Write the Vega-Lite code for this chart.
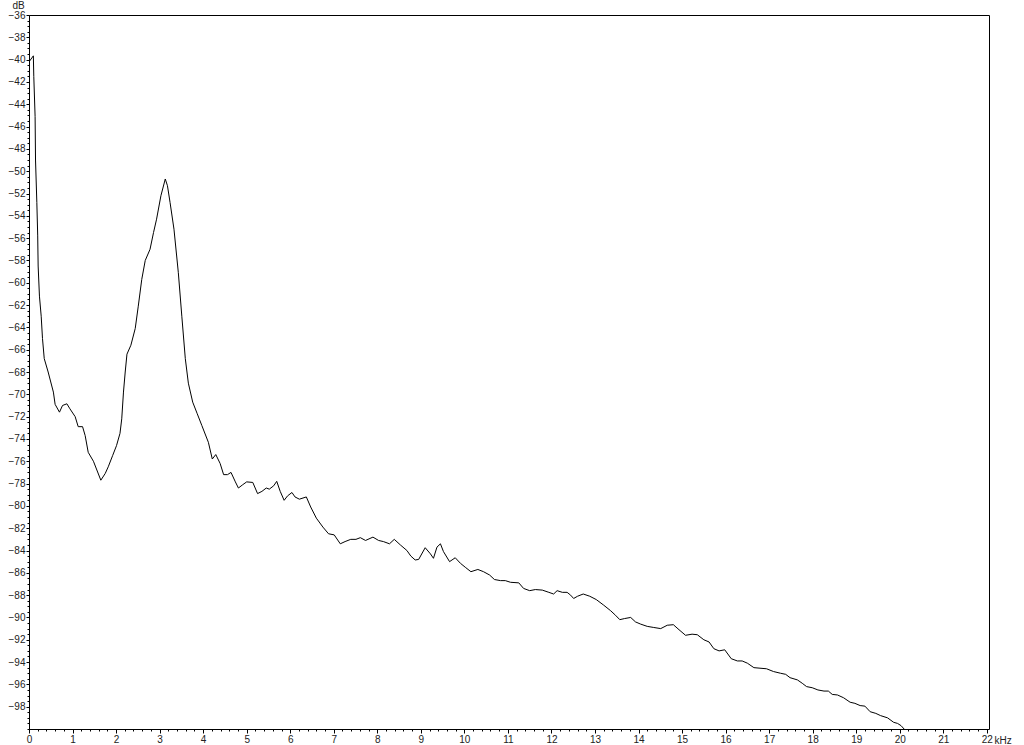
{
  "$schema": "https://vega.github.io/schema/vega-lite/v6.json",
  "width": 960,
  "height": 714,
  "autosize": {"type": "none"},
  "padding": {"left": 29, "top": 15, "right": 35, "bottom": 16},
  "background": "white",
  "config": {
    "view": {"stroke": "black", "strokeWidth": 1},
    "axis": {"grid": false, "domain": false, "tickColor": "black", "labelColor": "#222", "labelFont": "Liberation Sans", "labelFontSize": 10, "titleFont": "Liberation Sans", "titleFontSize": 10, "titleFontWeight": "normal", "titleColor": "#222"}
  },
  "data": {"values": [
    {"f": 0, "db": -40.2}, {"f": 0.1, "db": -39.66}, {"f": 0.11, "db": -41.5}, {"f": 0.14, "db": -45.1},
    {"f": 0.15, "db": -49.0}, {"f": 0.18, "db": -52.8}, {"f": 0.2, "db": -55.8}, {"f": 0.21, "db": -58.5},
    {"f": 0.24, "db": -61.2}, {"f": 0.28, "db": -63.0}, {"f": 0.31, "db": -65.0}, {"f": 0.35, "db": -66.8},
    {"f": 0.44, "db": -68.0}, {"f": 0.56, "db": -69.8}, {"f": 0.6, "db": -70.9}, {"f": 0.7, "db": -71.6},
    {"f": 0.77, "db": -71.0}, {"f": 0.87, "db": -70.85}, {"f": 0.94, "db": -71.3}, {"f": 1.06, "db": -72.0},
    {"f": 1.13, "db": -72.9}, {"f": 1.23, "db": -72.9}, {"f": 1.29, "db": -73.7}, {"f": 1.36, "db": -75.2},
    {"f": 1.48, "db": -76.0}, {"f": 1.65, "db": -77.7}, {"f": 1.75, "db": -77.1}, {"f": 1.82, "db": -76.5},
    {"f": 1.92, "db": -75.5}, {"f": 2.01, "db": -74.6}, {"f": 2.09, "db": -73.5}, {"f": 2.13, "db": -72.2},
    {"f": 2.17, "db": -69.8}, {"f": 2.21, "db": -68.0}, {"f": 2.25, "db": -66.4}, {"f": 2.34, "db": -65.6},
    {"f": 2.44, "db": -64.1}, {"f": 2.51, "db": -62.1}, {"f": 2.59, "db": -59.7}, {"f": 2.67, "db": -58.0},
    {"f": 2.78, "db": -57.0}, {"f": 2.86, "db": -55.5}, {"f": 2.93, "db": -54.3}, {"f": 3.03, "db": -52.2},
    {"f": 3.13, "db": -50.7}, {"f": 3.18, "db": -51.3}, {"f": 3.24, "db": -52.8}, {"f": 3.33, "db": -55.2},
    {"f": 3.43, "db": -59.1}, {"f": 3.51, "db": -63.0}, {"f": 3.59, "db": -66.8}, {"f": 3.66, "db": -69.0},
    {"f": 3.76, "db": -70.7}, {"f": 3.86, "db": -71.7}, {"f": 3.97, "db": -72.8}, {"f": 4.12, "db": -74.3},
    {"f": 4.21, "db": -75.8}, {"f": 4.29, "db": -75.4}, {"f": 4.39, "db": -76.2}, {"f": 4.47, "db": -77.2},
    {"f": 4.56, "db": -77.2}, {"f": 4.64, "db": -77.0}, {"f": 4.74, "db": -77.85}, {"f": 4.81, "db": -78.4},
    {"f": 4.91, "db": -78.1}, {"f": 5.0, "db": -77.85}, {"f": 5.14, "db": -77.9}, {"f": 5.25, "db": -78.9},
    {"f": 5.35, "db": -78.7}, {"f": 5.45, "db": -78.4}, {"f": 5.52, "db": -78.5}, {"f": 5.62, "db": -78.2},
    {"f": 5.69, "db": -77.8}, {"f": 5.77, "db": -78.7}, {"f": 5.86, "db": -79.5}, {"f": 5.94, "db": -79.1},
    {"f": 6.04, "db": -78.8}, {"f": 6.11, "db": -79.2}, {"f": 6.21, "db": -79.4}, {"f": 6.37, "db": -79.2},
    {"f": 6.47, "db": -80.1}, {"f": 6.6, "db": -81.1}, {"f": 6.75, "db": -81.9}, {"f": 6.88, "db": -82.5},
    {"f": 7.01, "db": -82.6}, {"f": 7.15, "db": -83.4}, {"f": 7.26, "db": -83.2}, {"f": 7.39, "db": -83.0},
    {"f": 7.51, "db": -83.0}, {"f": 7.61, "db": -82.85}, {"f": 7.73, "db": -83.1}, {"f": 7.9, "db": -82.8},
    {"f": 8.03, "db": -83.1}, {"f": 8.14, "db": -83.2}, {"f": 8.28, "db": -83.4}, {"f": 8.39, "db": -83.0},
    {"f": 8.53, "db": -83.5}, {"f": 8.68, "db": -84.0}, {"f": 8.77, "db": -84.5}, {"f": 8.87, "db": -84.85},
    {"f": 8.95, "db": -84.8}, {"f": 9.1, "db": -83.75}, {"f": 9.22, "db": -84.3}, {"f": 9.29, "db": -84.7},
    {"f": 9.37, "db": -83.7}, {"f": 9.45, "db": -83.4}, {"f": 9.52, "db": -84.1}, {"f": 9.66, "db": -85.0},
    {"f": 9.79, "db": -84.65}, {"f": 9.91, "db": -85.15}, {"f": 10.02, "db": -85.5}, {"f": 10.15, "db": -85.9},
    {"f": 10.31, "db": -85.7}, {"f": 10.44, "db": -85.9}, {"f": 10.58, "db": -86.2}, {"f": 10.69, "db": -86.6},
    {"f": 10.83, "db": -86.7}, {"f": 10.94, "db": -86.7}, {"f": 11.06, "db": -86.85}, {"f": 11.25, "db": -86.9},
    {"f": 11.36, "db": -87.4}, {"f": 11.5, "db": -87.6}, {"f": 11.63, "db": -87.5}, {"f": 11.79, "db": -87.55},
    {"f": 11.94, "db": -87.75}, {"f": 12.05, "db": -87.9}, {"f": 12.13, "db": -87.6}, {"f": 12.25, "db": -87.75},
    {"f": 12.36, "db": -87.75}, {"f": 12.44, "db": -88.0}, {"f": 12.51, "db": -88.3}, {"f": 12.6, "db": -88.1},
    {"f": 12.73, "db": -87.9}, {"f": 12.88, "db": -88.1}, {"f": 13.03, "db": -88.4}, {"f": 13.2, "db": -88.9},
    {"f": 13.36, "db": -89.4}, {"f": 13.47, "db": -89.8}, {"f": 13.57, "db": -90.2}, {"f": 13.68, "db": -90.1},
    {"f": 13.82, "db": -90.0}, {"f": 13.93, "db": -90.4}, {"f": 14.05, "db": -90.6}, {"f": 14.2, "db": -90.8},
    {"f": 14.35, "db": -90.9}, {"f": 14.51, "db": -91.0}, {"f": 14.66, "db": -90.7}, {"f": 14.8, "db": -90.65},
    {"f": 14.93, "db": -91.1}, {"f": 15.08, "db": -91.6}, {"f": 15.23, "db": -91.5}, {"f": 15.35, "db": -91.55},
    {"f": 15.5, "db": -92.0}, {"f": 15.62, "db": -92.2}, {"f": 15.73, "db": -92.8}, {"f": 15.85, "db": -93.0},
    {"f": 15.98, "db": -92.9}, {"f": 16.13, "db": -93.7}, {"f": 16.27, "db": -93.9}, {"f": 16.38, "db": -93.9},
    {"f": 16.5, "db": -94.1}, {"f": 16.65, "db": -94.5}, {"f": 16.79, "db": -94.55}, {"f": 16.94, "db": -94.6},
    {"f": 17.1, "db": -94.85}, {"f": 17.26, "db": -95.0}, {"f": 17.38, "db": -95.1}, {"f": 17.48, "db": -95.4},
    {"f": 17.65, "db": -95.6}, {"f": 17.76, "db": -95.9}, {"f": 17.86, "db": -96.2}, {"f": 17.99, "db": -96.3},
    {"f": 18.12, "db": -96.5}, {"f": 18.26, "db": -96.6}, {"f": 18.36, "db": -96.6}, {"f": 18.45, "db": -96.9},
    {"f": 18.57, "db": -96.95}, {"f": 18.71, "db": -97.2}, {"f": 18.86, "db": -97.6}, {"f": 18.97, "db": -97.7},
    {"f": 19.09, "db": -97.9}, {"f": 19.2, "db": -97.95}, {"f": 19.32, "db": -98.45}, {"f": 19.45, "db": -98.6},
    {"f": 19.56, "db": -98.8}, {"f": 19.72, "db": -99.0}, {"f": 19.86, "db": -99.4}, {"f": 19.95, "db": -99.5},
    {"f": 20.03, "db": -99.7}, {"f": 20.1, "db": -100.0}
  ]},
  "resolve": {"axis": {"x": "independent", "y": "independent"}},
  "layer": [
    {
      "mark": {"type": "line", "opacity": 0},
      "encoding": {
        "x": {"field": "f", "type": "quantitative", "scale": {"domain": [0, 22.05], "nice": false, "zero": false},
          "axis": {"orient": "bottom", "title": null, "labels": false, "tickSize": 2,
            "values": [0,0.2,0.4,0.6,0.8,1,1.2,1.4,1.6,1.8,2,2.2,2.4,2.6,2.8,3,3.2,3.4,3.6,3.8,4,4.2,4.4,4.6,4.8,5,5.2,5.4,5.6,5.8,6,6.2,6.4,6.6,6.8,7,7.2,7.4,7.6,7.8,8,8.2,8.4,8.6,8.8,9,9.2,9.4,9.6,9.8,10,10.2,10.4,10.6,10.8,11,11.2,11.4,11.6,11.8,12,12.2,12.4,12.6,12.8,13,13.2,13.4,13.6,13.8,14,14.2,14.4,14.6,14.8,15,15.2,15.4,15.6,15.8,16,16.2,16.4,16.6,16.8,17,17.2,17.4,17.6,17.8,18,18.2,18.4,18.6,18.8,19,19.2,19.4,19.6,19.8,20,20.2,20.4,20.6,20.8,21,21.2,21.4,21.6,21.8,22]}},
        "y": {"field": "db", "type": "quantitative", "scale": {"domain": [-100, -36], "nice": false, "zero": false},
          "axis": {"orient": "left", "title": null, "labels": false, "tickSize": 2,
            "values": [-100,-99.5,-99,-98.5,-98,-97.5,-97,-96.5,-96,-95.5,-95,-94.5,-94,-93.5,-93,-92.5,-92,-91.5,-91,-90.5,-90,-89.5,-89,-88.5,-88,-87.5,-87,-86.5,-86,-85.5,-85,-84.5,-84,-83.5,-83,-82.5,-82,-81.5,-81,-80.5,-80,-79.5,-79,-78.5,-78,-77.5,-77,-76.5,-76,-75.5,-75,-74.5,-74,-73.5,-73,-72.5,-72,-71.5,-71,-70.5,-70,-69.5,-69,-68.5,-68,-67.5,-67,-66.5,-66,-65.5,-65,-64.5,-64,-63.5,-63,-62.5,-62,-61.5,-61,-60.5,-60,-59.5,-59,-58.5,-58,-57.5,-57,-56.5,-56,-55.5,-55,-54.5,-54,-53.5,-53,-52.5,-52,-51.5,-51,-50.5,-50,-49.5,-49,-48.5,-48,-47.5,-47,-46.5,-46,-45.5,-45,-44.5,-44,-43.5,-43,-42.5,-42,-41.5,-41,-40.5,-40,-39.5,-39,-38.5,-38,-37.5,-37,-36.5,-36]}}
      }
    },
    {
      "mark": {"type": "line", "color": "black", "strokeWidth": 1, "clip": true, "interpolate": "linear"},
      "encoding": {
        "x": {"field": "f", "type": "quantitative", "scale": {"domain": [0, 22.05], "nice": false, "zero": false},
          "axis": {"orient": "bottom", "tickSize": 4, "labelPadding": 1, "labelFlush": false, "labelOverlap": false,
            "values": [0,1,2,3,4,5,6,7,8,9,10,11,12,13,14,15,16,17,18,19,20,21,22],
            "title": "kHz", "titleX": 965, "titleY": 11, "titleAlign": "left", "titleBaseline": "middle", "titleAnchor": null}},
        "y": {"field": "db", "type": "quantitative", "scale": {"domain": [-100, -36], "nice": false, "zero": false},
          "axis": {"orient": "left", "tickSize": 3, "labelPadding": 1, "labelFlush": false, "labelOverlap": false,
            "values": [-98,-96,-94,-92,-90,-88,-86,-84,-82,-80,-78,-76,-74,-72,-70,-68,-66,-64,-62,-60,-58,-56,-54,-52,-50,-48,-46,-44,-42,-40,-38,-36],
            "title": "dB", "titleAngle": 0, "titleX": -11, "titleY": -10, "titleAlign": "center", "titleBaseline": "middle", "titleAnchor": null}}
      }
    }
  ]
}
